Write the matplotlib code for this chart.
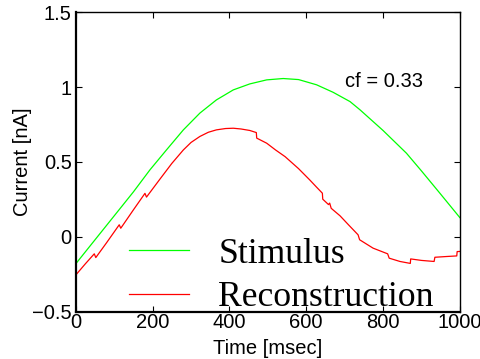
import matplotlib
matplotlib.use("Agg")
import matplotlib.pyplot as plt

# ── data ─────────────────────────────────────────────────────────────────────
stim_t = [0, 50, 100, 150, 193, 236, 280, 323, 366, 410, 453, 497, 540,
          580, 627, 670, 714, 740, 800, 861, 900, 948, 1000]
stim_v = [-0.18, -0.02, 0.14, 0.30, 0.447, 0.58, 0.714, 0.826, 0.914, 0.981,
          1.021, 1.048, 1.057, 1.05, 1.015, 0.965, 0.903, 0.848, 0.71, 0.558,
          0.44, 0.291, 0.128]

recon_t = [0, 25, 48, 52, 80, 113, 117, 150, 180, 184, 219, 250, 280, 300, 323,
           345, 366, 390, 410, 430, 453, 470, 471, 497, 520, 545, 580, 609, 627,
           642, 643, 658, 661, 665, 688, 710, 735, 739, 774, 812, 816, 844, 871,
           872, 900, 933, 935, 965, 992, 993, 1000]
recon_v = [-0.255, -0.18, -0.114, -0.139, -0.04, 0.08, 0.057, 0.18, 0.29, 0.265,
           0.385, 0.49, 0.58, 0.63, 0.67, 0.698, 0.714, 0.723, 0.725, 0.72, 0.71,
           0.696, 0.659, 0.625, 0.58, 0.535, 0.455, 0.38, 0.331, 0.291, 0.251,
           0.215, 0.225, 0.19, 0.14, 0.08, 0.013, -0.02, -0.076, -0.114, -0.143,
           -0.165, -0.178, -0.148, -0.158, -0.165, -0.137, -0.132, -0.128,
           -0.099, -0.098]

cf_label = "cf = 0.33"
x_ticks = [0, 200, 400, 600, 800, 1000]
y_ticks = [-0.5, 0, 0.5, 1, 1.5]

# ── figure ───────────────────────────────────────────────────────────────────
plt.rcParams["font.family"] = ["Liberation Sans", "DejaVu Sans"]
fig = plt.figure(figsize=(4.8, 3.59), dpi=100, facecolor="white")
ax = fig.add_axes([0.158, 0.132, 0.800, 0.834])

ax.plot(stim_t, stim_v, color="#00ff00", lw=0.9, label="Stimulus")
ax.plot(recon_t, recon_v, color="#ff0000", lw=0.9, label="Reconstruction")

ax.set_xlim(0, 1000)
ax.set_ylim(-0.5, 1.5)
ax.set_xticks(x_ticks)
ax.set_xticklabels([str(t) for t in x_ticks])
ax.set_yticks(y_ticks)
ax.set_yticklabels(["\u22120.5", "0", "0.5", "1", "1.5"])
ax.tick_params(direction="in", length=4, width=0.8, labelsize=14.5,
               top=True, right=True)
ax.tick_params(axis="x", pad=1)
ax.tick_params(axis="y", pad=3)

for side in ("left", "bottom"):
    ax.spines[side].set_linewidth(1.6)
for side in ("top", "right"):
    ax.spines[side].set_linewidth(1.0)

ax.set_xlabel("Time [msec]", fontsize=14.5, labelpad=5)
ax.set_ylabel("Current [nA]", fontsize=14.5, labelpad=0)

ax.text(802, 1.034, cf_label, fontsize=14.5, ha="center", va="center")

leg = ax.legend(loc="lower left", bbox_to_anchor=(0.102, -0.057),
                frameon=False, handlelength=1.68, handletextpad=0.81,
                labelspacing=0.3, borderaxespad=0,
                prop={"family": "Liberation Serif", "size": 25.7})

fig.savefig("out.png", dpi=100, facecolor="white")
